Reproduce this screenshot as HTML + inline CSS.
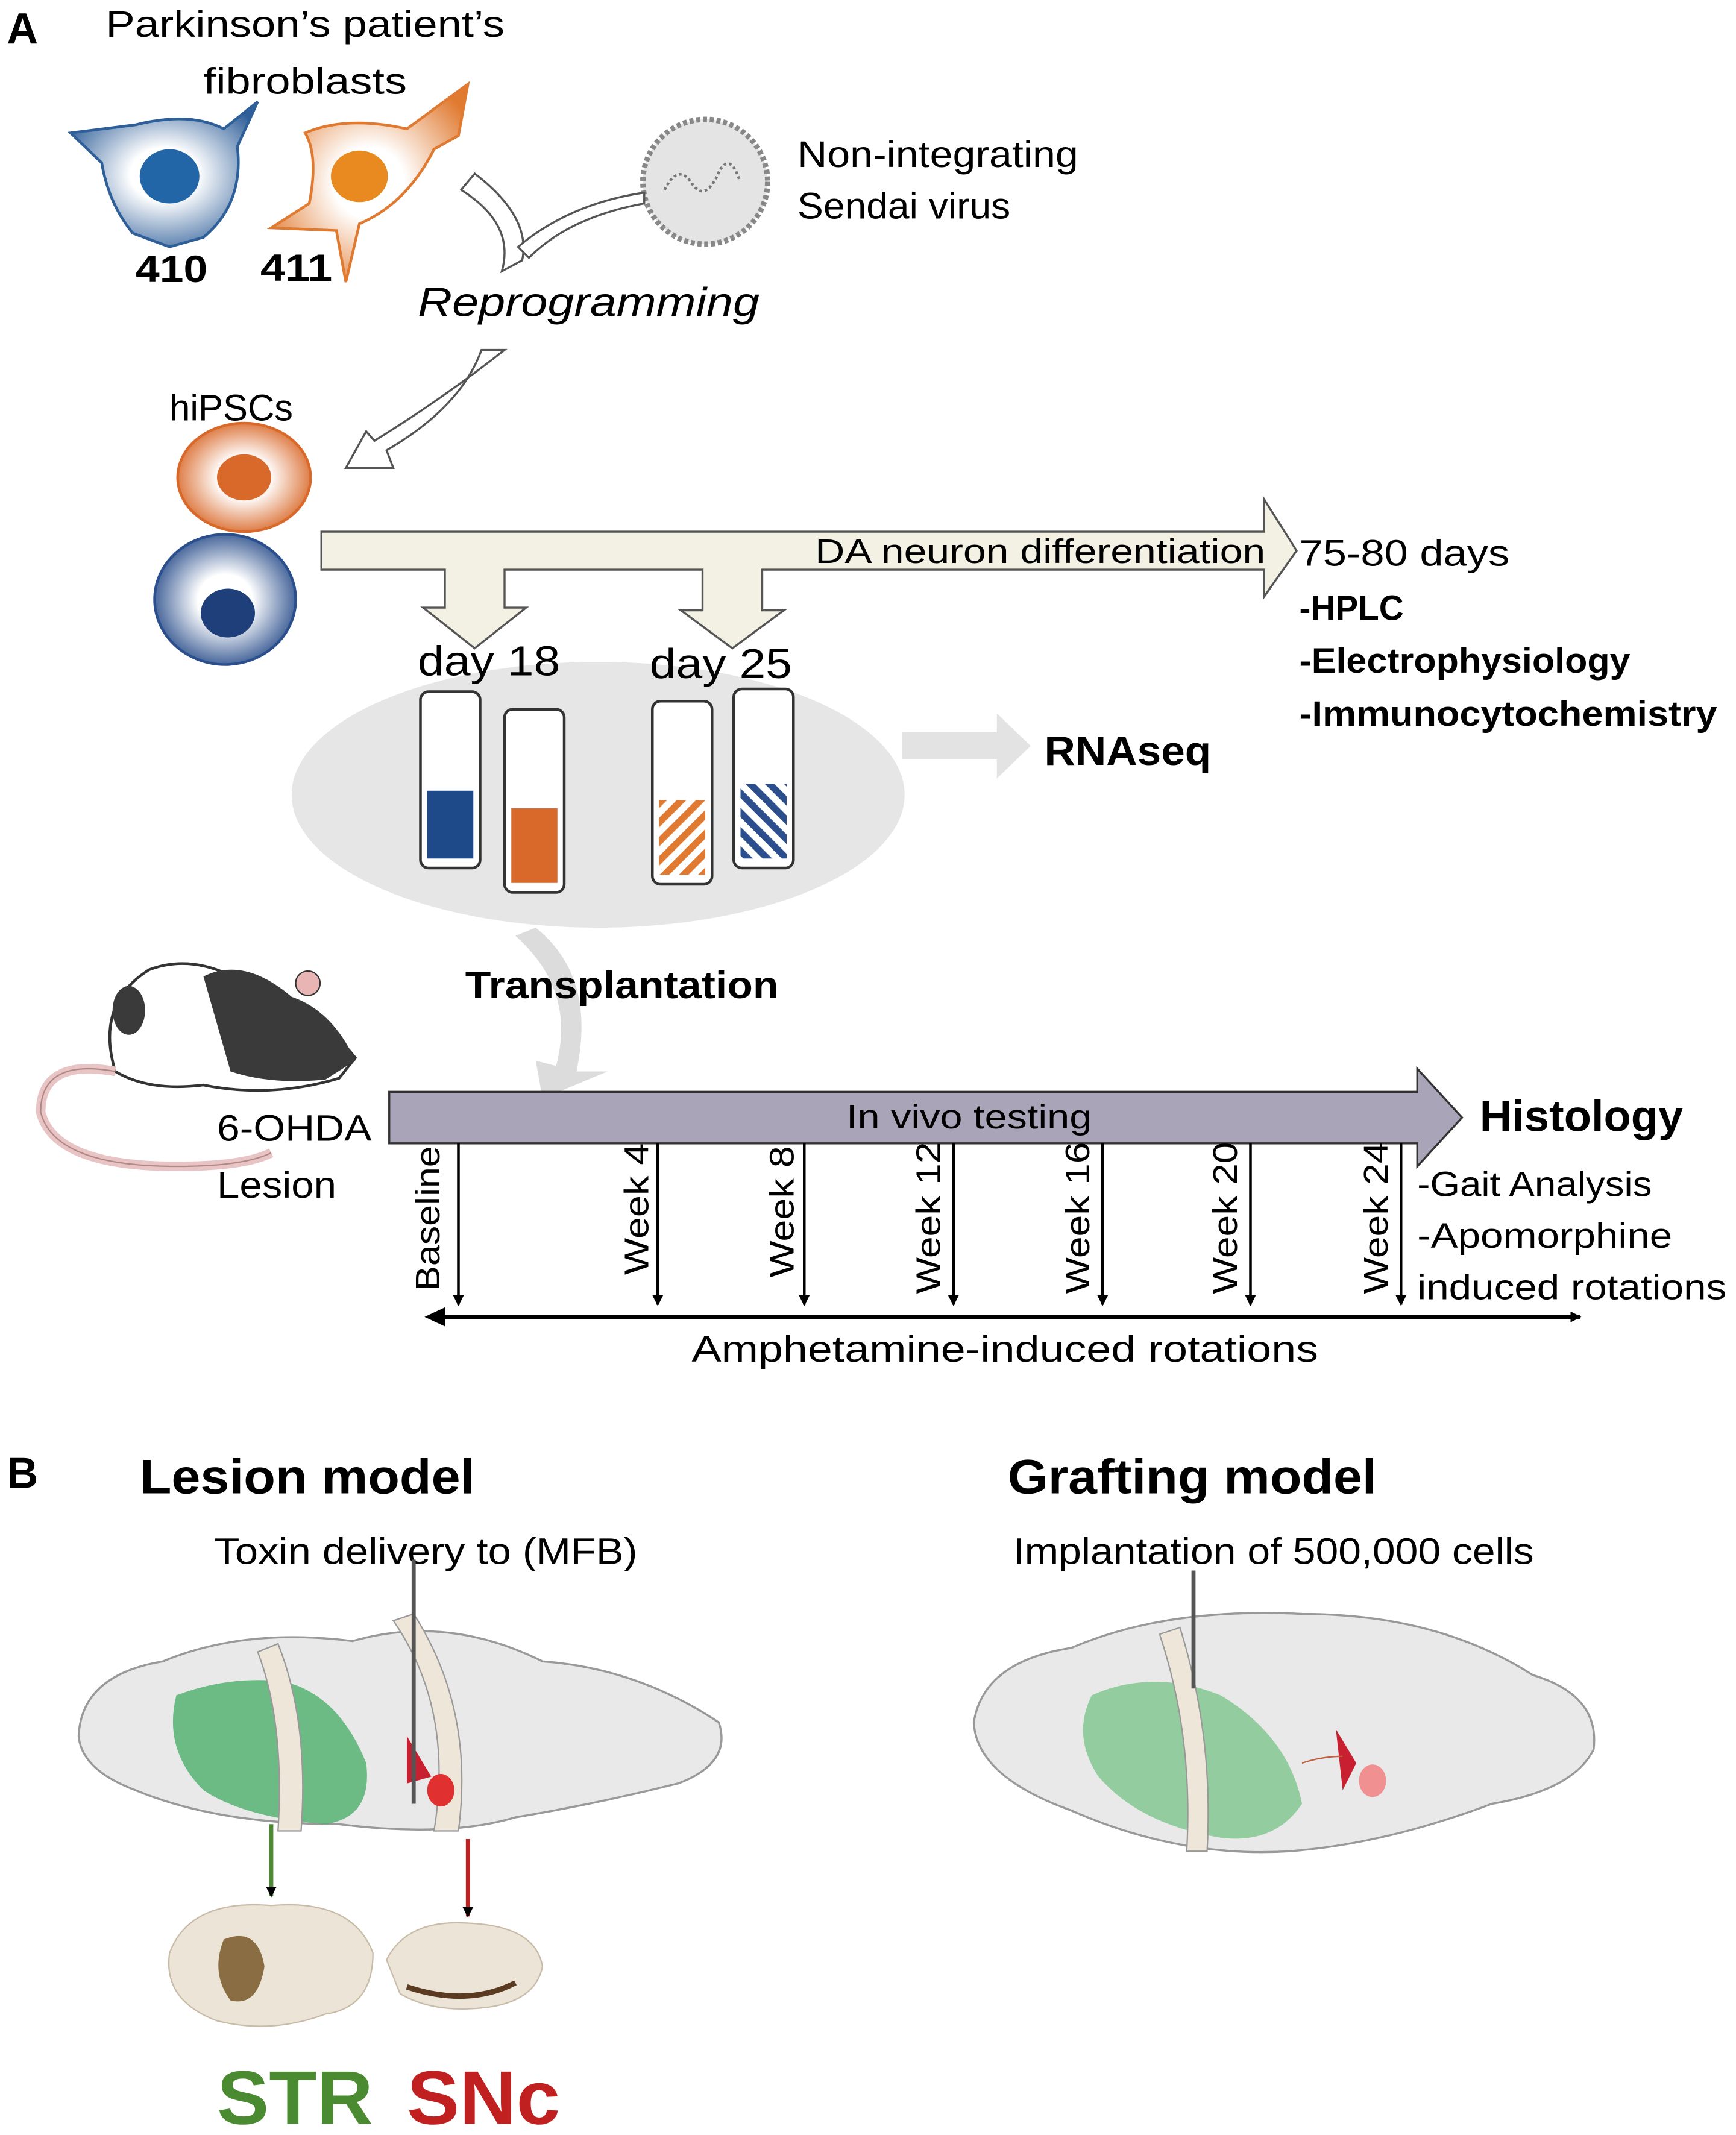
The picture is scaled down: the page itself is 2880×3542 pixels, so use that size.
<!DOCTYPE html>
<html><head><meta charset="utf-8"><style>html,body{margin:0;padding:0;background:#fff}svg{display:block}</style></head><body>
<svg width="2880" height="3542" viewBox="0 0 1280 1574.2" xmlns="http://www.w3.org/2000/svg" font-family="Liberation Sans, DejaVu Sans, sans-serif">
<defs>
<radialGradient id="gb" cx="50%" cy="50%" r="60%"><stop offset="0.3" stop-color="#fff"/><stop offset="1" stop-color="#2f5f99"/></radialGradient>
<radialGradient id="go" cx="50%" cy="50%" r="60%"><stop offset="0.3" stop-color="#fff"/><stop offset="1" stop-color="#e07a30"/></radialGradient>
<radialGradient id="gcb" cx="50%" cy="50%" r="55%"><stop offset="0.35" stop-color="#fff"/><stop offset="1" stop-color="#2b4f8c"/></radialGradient>
<radialGradient id="gco" cx="50%" cy="50%" r="55%"><stop offset="0.35" stop-color="#fff"/><stop offset="1" stop-color="#d9692a"/></radialGradient>
<pattern id="so" width="10" height="10" patternUnits="userSpaceOnUse" patternTransform="rotate(45)"><rect width="10" height="10" fill="#fff"/><rect width="5" height="10" fill="#e07a30"/></pattern>
<pattern id="sb" width="10" height="10" patternUnits="userSpaceOnUse" patternTransform="rotate(-45)"><rect width="10" height="10" fill="#fff"/><rect width="5" height="10" fill="#2b4f8c"/></pattern>
<marker id="ah" markerWidth="8" markerHeight="8" refX="7" refY="4" orient="auto" markerUnits="userSpaceOnUse"><path d="M0,0 L8,4 L0,8z" fill="#000"/></marker>
</defs>
<g lengthAdjust="spacingAndGlyphs">
<text x="5" y="32" font-size="32" font-weight="bold">A</text>
<text x="78" y="27" font-size="27" textLength="294" lengthAdjust="spacingAndGlyphs">Parkinson’s patient’s</text>
<text x="150" y="69" font-size="27" textLength="150" lengthAdjust="spacingAndGlyphs">fibroblasts</text>
<!-- fibroblasts -->
<path d="M52,98 L100,92 Q140,82 165,95 L190,75 L175,108 Q180,150 150,175 L125,182 L98,172 Q80,150 75,120 Z" fill="url(#gb)" stroke="#2f5f99" stroke-width="2"/>
<ellipse cx="125" cy="130" rx="22" ry="20" fill="#2366a8"/>
<path d="M200,168 L228,150 Q235,115 225,98 Q255,85 300,95 L345,62 L338,100 L320,110 Q300,150 265,165 L255,208 L248,170 Z" fill="url(#go)" stroke="#e07a30" stroke-width="2"/>
<ellipse cx="265" cy="130" rx="21" ry="19" fill="#e88a1f"/>
<text x="100" y="208" font-size="28" font-weight="bold" textLength="53" lengthAdjust="spacingAndGlyphs">410</text>
<text x="192" y="207" font-size="28" font-weight="bold" textLength="53" lengthAdjust="spacingAndGlyphs">411</text>
<!-- virus -->
<circle cx="520" cy="134" r="46" fill="#e4e4e4" stroke="#888" stroke-width="4" stroke-dasharray="3 2"/>
<path d="M490,140 q10,-20 20,-5 q10,15 20,-8 q8,-15 15,5" fill="none" stroke="#777" stroke-width="2" stroke-dasharray="2 2"/>
<text x="588" y="123" font-size="27" textLength="207" lengthAdjust="spacingAndGlyphs">Non-integrating</text>
<text x="588" y="161" font-size="27" textLength="157" lengthAdjust="spacingAndGlyphs">Sendai virus</text>
<!-- reprogramming arrows -->
<path d="M340,140 Q380,165 370,200 L385,192 Q392,160 350,128 Z" fill="#fff" stroke="#555" stroke-width="1.5"/>
<path d="M390,190 Q420,160 475,150 L475,142 Q420,150 382,182 Z" fill="#fff" stroke="#555" stroke-width="1.5"/>
<text x="308" y="233" font-size="30" font-style="italic" textLength="252" lengthAdjust="spacingAndGlyphs">Reprogramming</text>
<path d="M355,258 Q340,300 285,332 L290,345 L255,345 L270,318 L276,325 Q325,295 372,258 Z" fill="#fff" stroke="#555" stroke-width="1.5"/>
<!-- hiPSCs -->
<text x="125" y="310" font-size="27" textLength="91" lengthAdjust="spacingAndGlyphs">hiPSCs</text>
<ellipse cx="180" cy="352" rx="49" ry="40" fill="url(#gco)" stroke="#d9692a" stroke-width="2"/>
<ellipse cx="180" cy="352" rx="20" ry="17" fill="#d9692a"/>
<ellipse cx="166" cy="442" rx="52" ry="48" fill="url(#gcb)" stroke="#2b4f8c" stroke-width="2"/>
<ellipse cx="168" cy="452" rx="20" ry="18" fill="#1f3f7a"/>
<!-- DA arrow -->
<path d="M237,392 L932,392 L932,368 L956,406 L932,440 L932,420 L562,420 L562,450 L578,450 L540,478 L502,450 L518,450 L518,420 L372,420 L372,448 L388,448 L350,478 L312,448 L328,448 L328,420 L237,420 Z" fill="#f2f1e4" stroke="#555" stroke-width="1.5"/>
<text x="601" y="415" font-size="25" textLength="332" lengthAdjust="spacingAndGlyphs">DA neuron differentiation</text>
<text x="958" y="417" font-size="27" textLength="155" lengthAdjust="spacingAndGlyphs">75-80 days</text>
<text x="958" y="457" font-size="26" font-weight="bold" textLength="77" lengthAdjust="spacingAndGlyphs">-HPLC</text>
<text x="958" y="496" font-size="26" font-weight="bold" textLength="244" lengthAdjust="spacingAndGlyphs">-Electrophysiology</text>
<text x="958" y="535" font-size="26" font-weight="bold" textLength="308" lengthAdjust="spacingAndGlyphs">-Immunocytochemistry</text>
<!-- ellipse and tubes -->
<ellipse cx="441" cy="586" rx="226" ry="98" fill="#e6e6e6"/>
<text x="308" y="498" font-size="31" textLength="105" lengthAdjust="spacingAndGlyphs">day 18</text>
<text x="479" y="500" font-size="31" textLength="105" lengthAdjust="spacingAndGlyphs">day 25</text>
<g stroke="#333" stroke-width="2" fill="#fff">
<rect x="310" y="510" width="44" height="130" rx="6"/><rect x="372" y="523" width="44" height="135" rx="6"/>
<rect x="481" y="517" width="44" height="135" rx="6"/><rect x="541" y="508" width="44" height="132" rx="6"/>
</g>
<rect x="315" y="583" width="34" height="50" fill="#1f4a8a"/>
<rect x="377" y="596" width="34" height="55" fill="#d9692a"/>
<rect x="486" y="590" width="34" height="55" fill="url(#so)"/>
<rect x="546" y="578" width="34" height="55" fill="url(#sb)"/>
<path d="M665,540 L735,540 L735,526 L760,550 L735,574 L735,560 L665,560 Z" fill="#e3e3e3"/>
<text x="770" y="564" font-size="30" font-weight="bold" textLength="123" lengthAdjust="spacingAndGlyphs">RNAseq</text>
<path d="M395,684 Q440,720 425,790 L448,790 L400,810 L395,782 L410,786 Q425,730 380,690 Z" fill="#dcdcdc"/>
<text x="343" y="736" font-size="28" font-weight="bold" textLength="231" lengthAdjust="spacingAndGlyphs">Transplantation</text>
<!-- rat -->
<path d="M85,790 Q70,740 110,715 Q150,700 195,735 Q230,740 262,780 L250,795 Q200,810 150,800 Q110,805 85,790 Z" fill="#fff" stroke="#333" stroke-width="2"/>
<path d="M150,720 Q180,705 215,735 Q245,745 262,782 L240,796 Q200,800 170,790 Z" fill="#3a3a3a"/>
<ellipse cx="95" cy="745" rx="12" ry="18" fill="#3a3a3a"/>
<circle cx="227" cy="725" r="9" fill="#e8b4b4" stroke="#333"/>
<path d="M85,790 Q30,780 30,820 Q40,860 130,860 Q180,860 200,850" fill="none" stroke="#e8c4c4" stroke-width="7"/>
<path d="M85,790 Q30,780 30,820 Q40,860 130,860 Q180,860 200,850" fill="none" stroke="#b08888" stroke-width="1" />
<text x="160" y="841" font-size="27" textLength="114" lengthAdjust="spacingAndGlyphs">6-OHDA</text>
<text x="160" y="883" font-size="27" textLength="88" lengthAdjust="spacingAndGlyphs">Lesion</text>
<!-- in vivo arrow -->
<path d="M287,805 L1045,805 L1045,788 L1078,824 L1045,860 L1045,843 L287,843 Z" fill="#aaa4b9" stroke="#333" stroke-width="1.5"/>
<text x="624" y="832" font-size="25" textLength="181" lengthAdjust="spacingAndGlyphs">In vivo testing</text>
<text x="1091" y="834" font-size="32" font-weight="bold" textLength="150" lengthAdjust="spacingAndGlyphs">Histology</text>
<g stroke="#000" stroke-width="2" marker-end="url(#ah)">
<line x1="338" y1="843" x2="338" y2="962"/><line x1="485" y1="843" x2="485" y2="962"/><line x1="593" y1="843" x2="593" y2="962"/><line x1="703" y1="843" x2="703" y2="962"/><line x1="813" y1="843" x2="813" y2="962"/><line x1="922" y1="843" x2="922" y2="962"/><line x1="1033" y1="843" x2="1033" y2="962"/>
</g>
<g font-size="25">
<text transform="translate(324,952) rotate(-90)" textLength="107" lengthAdjust="spacingAndGlyphs">Baseline</text>
<text transform="translate(478,940) rotate(-90)" textLength="97" lengthAdjust="spacingAndGlyphs">Week 4</text>
<text transform="translate(585,942) rotate(-90)" textLength="97" lengthAdjust="spacingAndGlyphs">Week 8</text>
<text transform="translate(693,954) rotate(-90)" textLength="112" lengthAdjust="spacingAndGlyphs">Week 12</text>
<text transform="translate(803,954) rotate(-90)" textLength="112" lengthAdjust="spacingAndGlyphs">Week 16</text>
<text transform="translate(912,954) rotate(-90)" textLength="112" lengthAdjust="spacingAndGlyphs">Week 20</text>
<text transform="translate(1023,954) rotate(-90)" textLength="112" lengthAdjust="spacingAndGlyphs">Week 24</text>
</g>
<line x1="318" y1="971" x2="1165" y2="971" stroke="#000" stroke-width="3" marker-end="url(#ah)"/>
<path d="M313,971 L328,964 L328,978 Z" fill="#000"/>
<text x="510" y="1004" font-size="27" textLength="462" lengthAdjust="spacingAndGlyphs">Amphetamine-induced rotations</text>
<text x="1045" y="882" font-size="26" textLength="173" lengthAdjust="spacingAndGlyphs">-Gait Analysis</text>
<text x="1045" y="920" font-size="26" textLength="188" lengthAdjust="spacingAndGlyphs">-Apomorphine</text>
<text x="1045" y="958" font-size="26" textLength="228" lengthAdjust="spacingAndGlyphs">induced rotations</text>
<!-- B -->
<text x="5" y="1097" font-size="32" font-weight="bold">B</text>
<text x="103" y="1101" font-size="36" font-weight="bold" textLength="247" lengthAdjust="spacingAndGlyphs">Lesion model</text>
<text x="743" y="1101" font-size="36" font-weight="bold" textLength="272" lengthAdjust="spacingAndGlyphs">Grafting model</text>
<text x="158" y="1153" font-size="27" textLength="312" lengthAdjust="spacingAndGlyphs">Toxin delivery to (MFB)</text>
<text x="747" y="1153" font-size="27" textLength="384" lengthAdjust="spacingAndGlyphs">Implantation of 500,000 cells</text>
<!-- lesion brain -->
<path d="M58,1280 Q60,1235 120,1225 Q180,1200 260,1210 Q330,1190 400,1225 Q470,1230 530,1270 Q540,1300 500,1315 Q440,1330 380,1340 Q330,1355 250,1345 Q160,1345 100,1320 Q60,1305 58,1280 Z" fill="#e4e4e4" fill-opacity="0.8" stroke="#999" stroke-width="1.5"/>
<path d="M130,1250 Q170,1235 210,1240 Q250,1250 270,1300 Q275,1340 240,1345 Q180,1340 150,1320 Q120,1290 130,1250 Z" fill="#4caf6a" fill-opacity="0.8"/>
<path d="M190,1218 Q210,1270 205,1350 L222,1350 Q228,1270 205,1212 Z" fill="#efe6da" stroke="#999"/>
<path d="M290,1195 Q335,1260 320,1350 L338,1350 Q350,1260 305,1190 Z" fill="#efe6da" stroke="#999"/>
<path d="M300,1280 L318,1310 L300,1315 Z" fill="#c82030"/>
<ellipse cx="325" cy="1320" rx="10" ry="12" fill="#e03030"/>
<line x1="305" y1="1150" x2="305" y2="1330" stroke="#555" stroke-width="3"/>
<line x1="200" y1="1345" x2="200" y2="1398" stroke="#4a8a30" stroke-width="3" marker-end="url(#ah)"/>
<line x1="345" y1="1356" x2="345" y2="1413" stroke="#c02020" stroke-width="3" marker-end="url(#ah)"/>
<path d="M125,1440 Q140,1400 200,1405 Q260,1400 275,1440 Q275,1480 240,1485 Q200,1500 160,1490 Q120,1475 125,1440 Z" fill="#ece4d6" stroke="#c8bca8"/>
<path d="M165,1430 Q190,1420 195,1450 Q190,1480 170,1475 Q155,1455 165,1430 Z" fill="#8a6d42"/>
<path d="M285,1445 Q300,1415 345,1418 Q395,1420 400,1450 Q395,1475 360,1480 Q320,1485 295,1470 Z" fill="#ece4d6" stroke="#c8bca8"/>
<path d="M300,1465 Q345,1480 380,1462" fill="none" stroke="#5a3a20" stroke-width="4"/>
<text x="160" y="1566" font-size="56" font-weight="bold" fill="#4a8a30" textLength="115" lengthAdjust="spacingAndGlyphs">STR</text>
<text x="300" y="1566" font-size="56" font-weight="bold" fill="#c02020" textLength="113" lengthAdjust="spacingAndGlyphs">SNc</text>
<!-- grafting brain -->
<path d="M718,1270 Q725,1225 790,1215 Q860,1185 960,1190 Q1060,1190 1130,1235 Q1180,1250 1175,1290 Q1160,1320 1100,1330 Q1020,1360 950,1365 Q870,1370 790,1335 Q720,1310 718,1270 Z" fill="#e4e4e4" fill-opacity="0.8" stroke="#999" stroke-width="1.5"/>
<path d="M805,1250 Q850,1230 900,1250 Q950,1280 960,1330 Q940,1360 900,1355 Q840,1345 810,1310 Q790,1280 805,1250 Z" fill="#7cc48c" fill-opacity="0.8"/>
<path d="M855,1205 Q880,1280 875,1365 L890,1365 Q895,1280 870,1200 Z" fill="#efe6da" stroke="#999"/>
<line x1="880" y1="1158" x2="880" y2="1245" stroke="#555" stroke-width="3"/>
<path d="M985,1275 L1000,1300 L990,1320 Z" fill="#c82030"/>
<ellipse cx="1012" cy="1313" rx="10" ry="12" fill="#f09090"/>
<path d="M960,1300 Q975,1295 990,1295" stroke="#c06040" fill="none"/>
</g>
</svg>
</body></html>
